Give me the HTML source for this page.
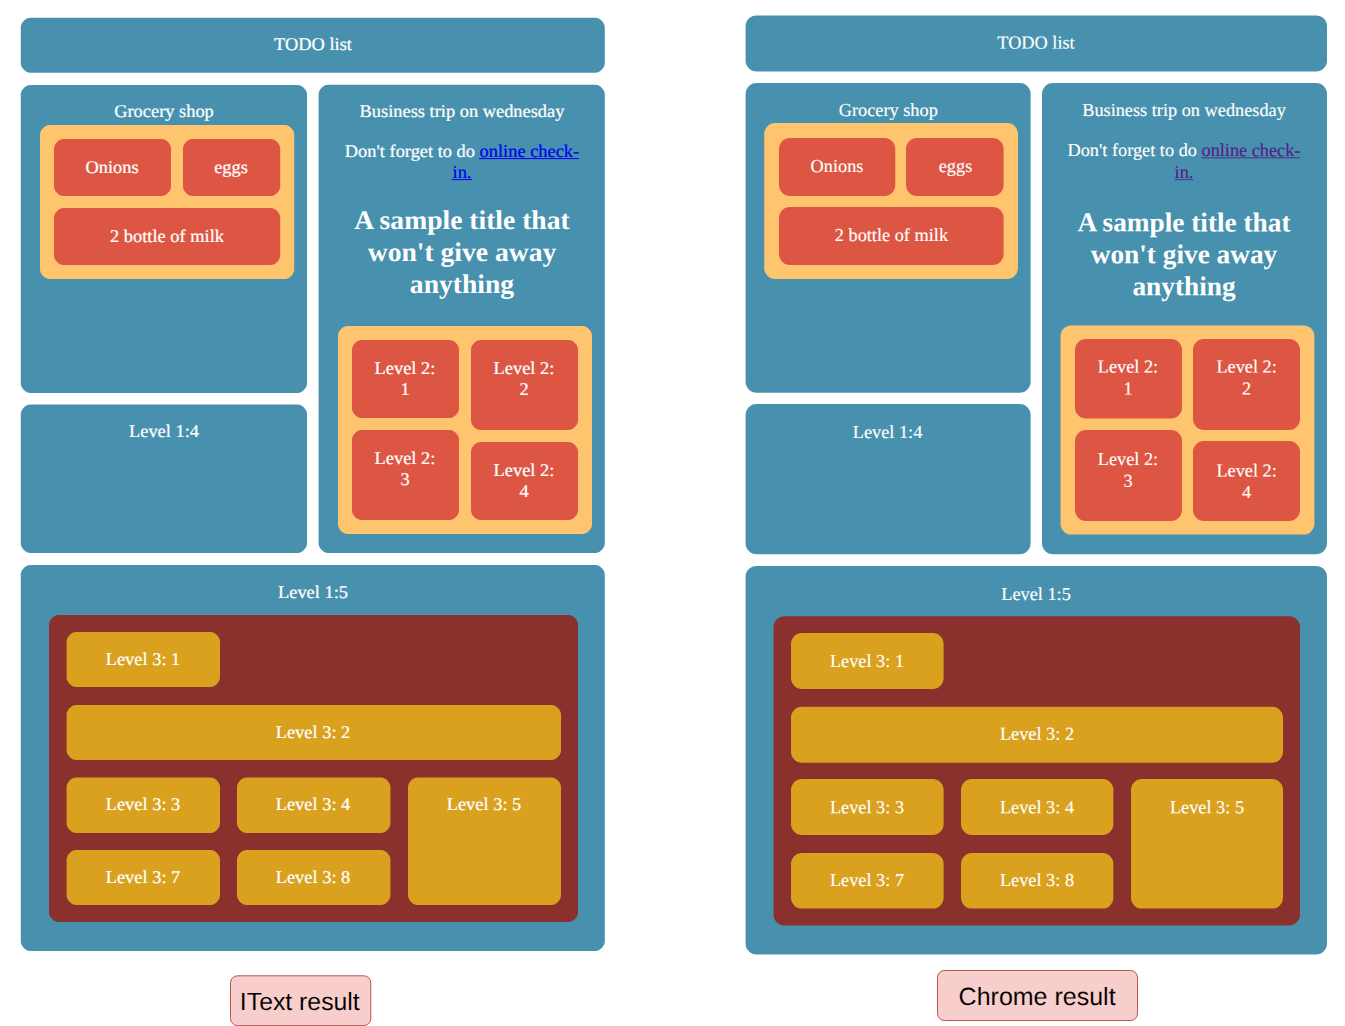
<!DOCTYPE html>
<html lang="en"><head><meta charset="utf-8"><title>Grid layout: IText result vs Chrome result</title>
<style>
html,body{margin:0;padding:0;background:#fff;}
body{width:1345px;height:1026px;overflow:hidden;}
svg{display:block;}
.t{font-family:"Liberation Serif","DejaVu Serif",serif;fill:#fff;stroke:#fff;stroke-width:0.25px;text-anchor:middle;text-rendering:geometricPrecision;}
.r{stroke-width:0.15px;}
.h{font-weight:bold;stroke-width:0;}
.l1{fill:#0000ee;stroke:#0000ee;}
.l2{fill:#551a8b;stroke:#551a8b;}
.lab{font-family:"Liberation Sans","DejaVu Sans",sans-serif;fill:#000;stroke:#f8cecc;stroke-width:0.1px;text-anchor:middle;text-rendering:geometricPrecision;opacity:0.999;}
</style></head><body>
<svg width="1345" height="1026" viewBox="0 0 1345 1026">
<rect width="1345" height="1026" fill="#fff"/>
<path d="M30.1 17.8H595.5C599.68 17.8 604.8 22.92 604.8 27.1V63.4C604.8 67.59 599.68 72.7 595.5 72.7H30.1C25.92 72.7 20.8 67.59 20.8 63.4V27.1C20.8 22.92 25.92 17.8 30.1 17.8Z" fill="#4891ae"/>
<path d="M30.1 85H297.7C301.88 85 307 90.11 307 94.3V383.7C307 387.88 301.88 393 297.7 393H30.1C25.92 393 20.8 387.88 20.8 383.7V94.3C20.8 90.11 25.92 85 30.1 85Z" fill="#4891ae"/>
<path d="M327.9 84.8H595.5C599.68 84.8 604.8 89.91 604.8 94.1V543.7C604.8 547.88 599.68 553 595.5 553H327.9C323.72 553 318.6 547.88 318.6 543.7V94.1C318.6 89.91 323.72 84.8 327.9 84.8Z" fill="#4891ae"/>
<path d="M30.1 404.6H297.7C301.88 404.6 307 409.72 307 413.9V543.7C307 547.88 301.88 553 297.7 553H30.1C25.92 553 20.8 547.88 20.8 543.7V413.9C20.8 409.72 25.92 404.6 30.1 404.6Z" fill="#4891ae"/>
<path d="M30.1 565H595.5C599.68 565 604.8 570.12 604.8 574.3V941.7C604.8 945.88 599.68 951 595.5 951H30.1C25.92 951 20.8 945.88 20.8 941.7V574.3C20.8 570.12 25.92 565 30.1 565Z" fill="#4891ae"/>
<path d="M49.3 125H284.9C289.08 125 294.2 130.12 294.2 134.3V269.7C294.2 273.88 289.08 279 284.9 279H49.3C45.12 279 40 273.88 40 269.7V134.3C40 130.12 45.12 125 49.3 125Z" fill="#fec46e"/>
<path d="M63.3 139H161.7C165.88 139 171 144.12 171 148.3V186.7C171 190.88 165.88 196 161.7 196H63.3C59.12 196 54 190.88 54 186.7V148.3C54 144.12 59.12 139 63.3 139Z" fill="#dd5644"/>
<path d="M192.3 139H270.9C275.08 139 280.2 144.12 280.2 148.3V186.7C280.2 190.88 275.08 196 270.9 196H192.3C188.12 196 183 190.88 183 186.7V148.3C183 144.12 188.12 139 192.3 139Z" fill="#dd5644"/>
<path d="M63.3 208H270.9C275.08 208 280.2 213.12 280.2 217.3V255.7C280.2 259.88 275.08 265 270.9 265H63.3C59.12 265 54 259.88 54 255.7V217.3C54 213.12 59.12 208 63.3 208Z" fill="#dd5644"/>
<path d="M347.3 326H582.7C586.88 326 592 331.12 592 335.3V524.7C592 528.88 586.88 534 582.7 534H347.3C343.12 534 338 528.88 338 524.7V335.3C338 331.12 343.12 326 347.3 326Z" fill="#fec46e"/>
<path d="M361.3 340H449.7C453.88 340 459 345.12 459 349.3V408.7C459 412.88 453.88 418 449.7 418H361.3C357.12 418 352 412.88 352 408.7V349.3C352 345.12 357.12 340 361.3 340Z" fill="#dd5644"/>
<path d="M480.3 340H568.7C572.88 340 578 345.12 578 349.3V420.7C578 424.88 572.88 430 568.7 430H480.3C476.12 430 471 424.88 471 420.7V349.3C471 345.12 476.12 340 480.3 340Z" fill="#dd5644"/>
<path d="M361.3 430H449.7C453.88 430 459 435.12 459 439.3V510.7C459 514.88 453.88 520 449.7 520H361.3C357.12 520 352 514.88 352 510.7V439.3C352 435.12 357.12 430 361.3 430Z" fill="#dd5644"/>
<path d="M480.3 442H568.7C572.88 442 578 447.12 578 451.3V510.7C578 514.88 572.88 520 568.7 520H480.3C476.12 520 471 514.88 471 510.7V451.3C471 447.12 476.12 442 480.3 442Z" fill="#dd5644"/>
<path d="M58.3 615H568.7C572.88 615 578 620.12 578 624.3V912.7C578 916.88 572.88 922 568.7 922H58.3C54.12 922 49 916.88 49 912.7V624.3C49 620.12 54.12 615 58.3 615Z" fill="#8a302d"/>
<path d="M75.9 632H210.7C214.88 632 220 637.12 220 641.3V677.7C220 681.88 214.88 687 210.7 687H75.9C71.71 687 66.6 681.88 66.6 677.7V641.3C66.6 637.12 71.71 632 75.9 632Z" fill="#d9a11e"/>
<path d="M75.9 705H551.7C555.88 705 561 710.12 561 714.3V750.7C561 754.88 555.88 760 551.7 760H75.9C71.71 760 66.6 754.88 66.6 750.7V714.3C66.6 710.12 71.71 705 75.9 705Z" fill="#d9a11e"/>
<path d="M75.9 777.5H210.7C214.88 777.5 220 782.62 220 786.8V823.7C220 827.88 214.88 833 210.7 833H75.9C71.71 833 66.6 827.88 66.6 823.7V786.8C66.6 782.62 71.71 777.5 75.9 777.5Z" fill="#d9a11e"/>
<path d="M246.3 777.5H381.1C385.28 777.5 390.4 782.62 390.4 786.8V823.7C390.4 827.88 385.28 833 381.1 833H246.3C242.12 833 237 827.88 237 823.7V786.8C237 782.62 242.12 777.5 246.3 777.5Z" fill="#d9a11e"/>
<path d="M417.3 777.5H551.7C555.88 777.5 561 782.62 561 786.8V895.7C561 899.88 555.88 905 551.7 905H417.3C413.12 905 408 899.88 408 895.7V786.8C408 782.62 413.12 777.5 417.3 777.5Z" fill="#d9a11e"/>
<path d="M75.9 850H210.7C214.88 850 220 855.12 220 859.3V895.7C220 899.88 214.88 905 210.7 905H75.9C71.71 905 66.6 899.88 66.6 895.7V859.3C66.6 855.12 71.71 850 75.9 850Z" fill="#d9a11e"/>
<path d="M246.3 850H381.1C385.28 850 390.4 855.12 390.4 859.3V895.7C390.4 899.88 385.28 905 381.1 905H246.3C242.12 905 237 899.88 237 895.7V859.3C237 855.12 242.12 850 246.3 850Z" fill="#d9a11e"/>
<rect x="745.6" y="15.4" width="581.4" height="56" rx="11" fill="#4891ae"/>
<rect x="745.6" y="83" width="285" height="309.8" rx="11" fill="#4891ae"/>
<rect x="1042" y="83" width="285" height="471.3" rx="11" fill="#4891ae"/>
<rect x="745.6" y="404" width="285" height="150.3" rx="11" fill="#4891ae"/>
<rect x="745.6" y="565.9" width="581.4" height="388.6" rx="11" fill="#4891ae"/>
<rect x="764.2" y="123" width="253.8" height="155.9" rx="11" fill="#fec46e"/>
<rect x="779" y="138" width="116.3" height="58" rx="11" fill="#dd5644"/>
<rect x="906" y="138" width="97.6" height="58" rx="11" fill="#dd5644"/>
<rect x="779" y="207" width="224.6" height="58" rx="11" fill="#dd5644"/>
<rect x="1060.5" y="325.4" width="253.9" height="209.2" rx="11" fill="#fec46e"/>
<rect x="1075" y="339" width="107" height="79.5" rx="11" fill="#dd5644"/>
<rect x="1193" y="339" width="107" height="91" rx="11" fill="#dd5644"/>
<rect x="1075" y="430" width="107" height="91" rx="11" fill="#dd5644"/>
<rect x="1193" y="441" width="107" height="80" rx="11" fill="#dd5644"/>
<rect x="773.5" y="616.3" width="526.5" height="309.1" rx="11" fill="#8a302d"/>
<rect x="791" y="633" width="152.6" height="56" rx="11" fill="#d9a11e"/>
<rect x="791" y="706.7" width="492" height="56.1" rx="11" fill="#d9a11e"/>
<rect x="791" y="779" width="152.6" height="56" rx="11" fill="#d9a11e"/>
<rect x="961" y="779" width="152.4" height="56" rx="11" fill="#d9a11e"/>
<rect x="1131" y="779" width="152" height="129.6" rx="11" fill="#d9a11e"/>
<rect x="791" y="853" width="152.6" height="55.6" rx="11" fill="#d9a11e"/>
<rect x="961" y="853" width="152.4" height="55.6" rx="11" fill="#d9a11e"/>
<rect x="230.5" y="975.8" width="140.3" height="49.8" rx="7" fill="#f8cecc" stroke="#b85450" stroke-width="1"/>
<rect x="937.5" y="970.5" width="200" height="50" rx="7" fill="#f8cecc" stroke="#b85450" stroke-width="1"/>
<text class="t" transform="translate(313 50) scale(1 0.975)" font-size="18.4">TODO list</text>
<text class="t" transform="translate(164 117) scale(1 0.975)" font-size="18.4">Grocery shop</text>
<text class="t" transform="translate(112 173) scale(1 0.975)" font-size="18.4">Onions</text>
<text class="t" transform="translate(231 173) scale(1 0.975)" font-size="18.4">eggs</text>
<text class="t" transform="translate(167 241.5) scale(1 0.975)" font-size="18.4">2 bottle of milk</text>
<text class="t" transform="translate(462 117) scale(1 0.975)" font-size="18.4">Business trip on wednesday</text>
<text class="t" transform="translate(462 157) scale(1 0.975)" font-size="18.4">Don't forget to do <tspan class="l1">online check-</tspan></text>
<text class="t" transform="translate(462 178) scale(1 0.975)" font-size="18.4"><tspan class="l1">in.</tspan></text>
<rect x="479.1" y="158.1" width="99.8" height="1" fill="#0000ee" opacity="1"/>
<rect x="452" y="179.1" width="20" height="1" fill="#0000ee" opacity="1"/>
<text class="t h" transform="translate(462 229) scale(1 0.975)" font-size="27.6">A sample title that</text>
<text class="t h" transform="translate(462 261) scale(1 0.975)" font-size="27.6">won't give away</text>
<text class="t h" transform="translate(462 293) scale(1 0.975)" font-size="27.6">anything</text>
<text class="t" transform="translate(405 374) scale(1 0.975)" font-size="18.4">Level 2:</text>
<text class="t" transform="translate(405 395) scale(1 0.975)" font-size="18.4">1</text>
<text class="t" transform="translate(524 374) scale(1 0.975)" font-size="18.4">Level 2:</text>
<text class="t" transform="translate(524 395) scale(1 0.975)" font-size="18.4">2</text>
<text class="t" transform="translate(405 464) scale(1 0.975)" font-size="18.4">Level 2:</text>
<text class="t" transform="translate(405 485) scale(1 0.975)" font-size="18.4">3</text>
<text class="t" transform="translate(524 476) scale(1 0.975)" font-size="18.4">Level 2:</text>
<text class="t" transform="translate(524 497) scale(1 0.975)" font-size="18.4">4</text>
<text class="t" transform="translate(164 437) scale(1 0.975)" font-size="18.4">Level 1:4</text>
<text class="t" transform="translate(313 598) scale(1 0.975)" font-size="18.4">Level 1:5</text>
<text class="t" transform="translate(143 665) scale(1 0.975)" font-size="18.4">Level 3: 1</text>
<text class="t" transform="translate(313 738) scale(1 0.975)" font-size="18.4">Level 3: 2</text>
<text class="t" transform="translate(143 810) scale(1 0.975)" font-size="18.4">Level 3: 3</text>
<text class="t" transform="translate(313 810) scale(1 0.975)" font-size="18.4">Level 3: 4</text>
<text class="t" transform="translate(484 810) scale(1 0.975)" font-size="18.4">Level 3: 5</text>
<text class="t" transform="translate(143 883) scale(1 0.975)" font-size="18.4">Level 3: 7</text>
<text class="t" transform="translate(313 883) scale(1 0.975)" font-size="18.4">Level 3: 8</text>
<text class="t r" transform="translate(1036 48.55) rotate(0.03)" font-size="18.3">TODO list</text>
<text class="t r" transform="translate(888.3 116) rotate(0.03)" font-size="18.3">Grocery shop</text>
<text class="t r" transform="translate(837 172) rotate(0.03)" font-size="18.3">Onions</text>
<text class="t r" transform="translate(955.5 172) rotate(0.03)" font-size="18.3">eggs</text>
<text class="t r" transform="translate(891.4 241) rotate(0.03)" font-size="18.3">2 bottle of milk</text>
<text class="t r" transform="translate(1184 116) rotate(0.03)" font-size="18.3">Business trip on wednesday</text>
<text class="t r" transform="translate(1184 156.1) rotate(0.03)" font-size="18.3">Don't forget to do <tspan class="l2">online check-</tspan></text>
<text class="t r" transform="translate(1184 178) rotate(0.03)" font-size="18.3"><tspan class="l2">in.</tspan></text>
<rect x="1201.5" y="157.3" width="98.9" height="1" fill="#551a8b" opacity="0.85"/>
<rect x="1175" y="179.1" width="18.3" height="1" fill="#551a8b" opacity="0.85"/>
<text class="t h" transform="translate(1184 231.4) rotate(0.03)" font-size="27.3">A sample title that</text>
<text class="t h" transform="translate(1184 263.3) rotate(0.03)" font-size="27.3">won't give away</text>
<text class="t h" transform="translate(1184 295.3) rotate(0.03)" font-size="27.3">anything</text>
<text class="t r" transform="translate(1128 372.6) rotate(0.03)" font-size="18.3">Level 2:</text>
<text class="t r" transform="translate(1128 394.6) rotate(0.03)" font-size="18.3">1</text>
<text class="t r" transform="translate(1246.6 372.6) rotate(0.03)" font-size="18.3">Level 2:</text>
<text class="t r" transform="translate(1246.6 394.6) rotate(0.03)" font-size="18.3">2</text>
<text class="t r" transform="translate(1128 465) rotate(0.03)" font-size="18.3">Level 2:</text>
<text class="t r" transform="translate(1128 486.8) rotate(0.03)" font-size="18.3">3</text>
<text class="t r" transform="translate(1246.6 476.6) rotate(0.03)" font-size="18.3">Level 2:</text>
<text class="t r" transform="translate(1246.6 498) rotate(0.03)" font-size="18.3">4</text>
<text class="t r" transform="translate(887.5 438) rotate(0.03)" font-size="18.3">Level 1:4</text>
<text class="t r" transform="translate(1036 599.9) rotate(0.03)" font-size="18.3">Level 1:5</text>
<text class="t r" transform="translate(867 666.9) rotate(0.03)" font-size="18.3">Level 3: 1</text>
<text class="t r" transform="translate(1037 739.8) rotate(0.03)" font-size="18.3">Level 3: 2</text>
<text class="t r" transform="translate(867 813.2) rotate(0.03)" font-size="18.3">Level 3: 3</text>
<text class="t r" transform="translate(1037 813.2) rotate(0.03)" font-size="18.3">Level 3: 4</text>
<text class="t r" transform="translate(1207 813.2) rotate(0.03)" font-size="18.3">Level 3: 5</text>
<text class="t r" transform="translate(867 886) rotate(0.03)" font-size="18.3">Level 3: 7</text>
<text class="t r" transform="translate(1037 886) rotate(0.03)" font-size="18.3">Level 3: 8</text>
<text class="lab" x="299.8" y="1009.8" font-size="24.8">IText result</text>
<text class="lab" x="1037.1" y="1005" font-size="25">Chrome result</text>
</svg>
</body></html>
